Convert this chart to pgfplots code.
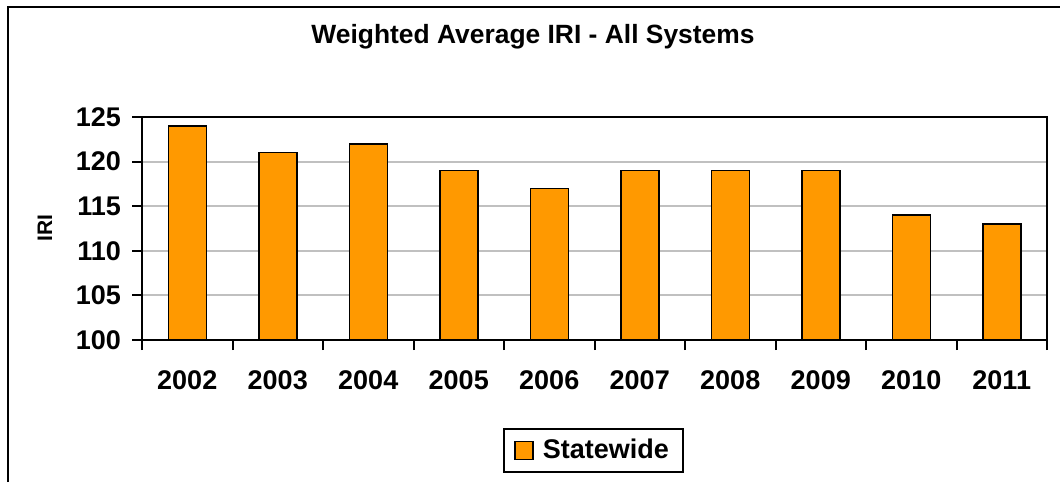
\documentclass[border=0pt]{standalone}
\usepackage{fontspec}
\setmainfont{Liberation Sans}
\usepackage{pgfplots}
\pgfplotsset{compat=1.18}
\definecolor{barorange}{RGB}{255,153,0}
\definecolor{gridgray}{RGB}{192,192,192}

\begin{document}
\begin{tikzpicture}
\useasboundingbox (0,0) rectangle (530pt,241pt);
\fill[white] (0,0) rectangle (530pt,241pt);
\draw[line width=1pt] (4pt,0) -- (4pt,237.5pt) -- (530pt,237.5pt);
\node[font=\fontsize{13.2}{15}\selectfont\bfseries] at (266.5pt,222.5pt) {Weighted Average IRI - All Systems};
\node[font=\fontsize{10.5}{12}\selectfont\bfseries, rotate=90] at (22.5pt,127pt) {IRI};
\begin{axis}[
    at={(71pt,71pt)}, anchor=south west,
    scale only axis,
    width=452.5pt, height=111.5pt,
    xmin=-0.5, xmax=9.5,
    ymin=100, ymax=125,
    ytick={100,105,...,125},
    xtick={-0.5,0.5,...,9.5},
    xticklabels={},
    extra x ticks={0,...,9},
    extra x tick labels={2002,2003,2004,2005,2006,2007,2008,2009,2010,2011},
    extra x tick style={major tick length=0pt, tick style={draw=none}},
    tick align=outside,
    major tick length=5pt,
    tick style={black, line width=1pt},
    xtick pos=bottom, ytick pos=left,
    ymajorgrids,
    major grid style={draw=gridgray, line width=1pt},
    axis line style={black, line width=1pt},
    /pgf/number format/assume math mode=true,
    ticklabel style={font=\fontsize{13.5}{15}\selectfont\bfseries},
    yticklabel style={anchor=east, xshift=-2pt},
    xticklabel style={anchor=center, yshift=-20pt},
    ybar, bar width=19pt,
    legend style={at={(0.4989,-0.4955)}, anchor=center, draw=black, line width=0.8pt,
        font=\fontsize{13.5}{15}\selectfont\bfseries, inner xsep=5pt, inner ysep=3pt},
    legend image code/.code={%
        \path[draw=none, fill=none] (0pt,0pt) -- (12pt,0pt);
        \draw[fill=barorange, draw=black, line width=0.75pt] (0pt,-4.5pt) rectangle (9pt,4.5pt);},
]
\addplot[fill=barorange, draw=black, line width=0.75pt] coordinates {
    (0,124) (1,121) (2,122) (3,119) (4,117)
    (5,119) (6,119) (7,119) (8,114) (9,113)
};
\addlegendentry{Statewide}
\end{axis}
\end{tikzpicture}
\end{document}
